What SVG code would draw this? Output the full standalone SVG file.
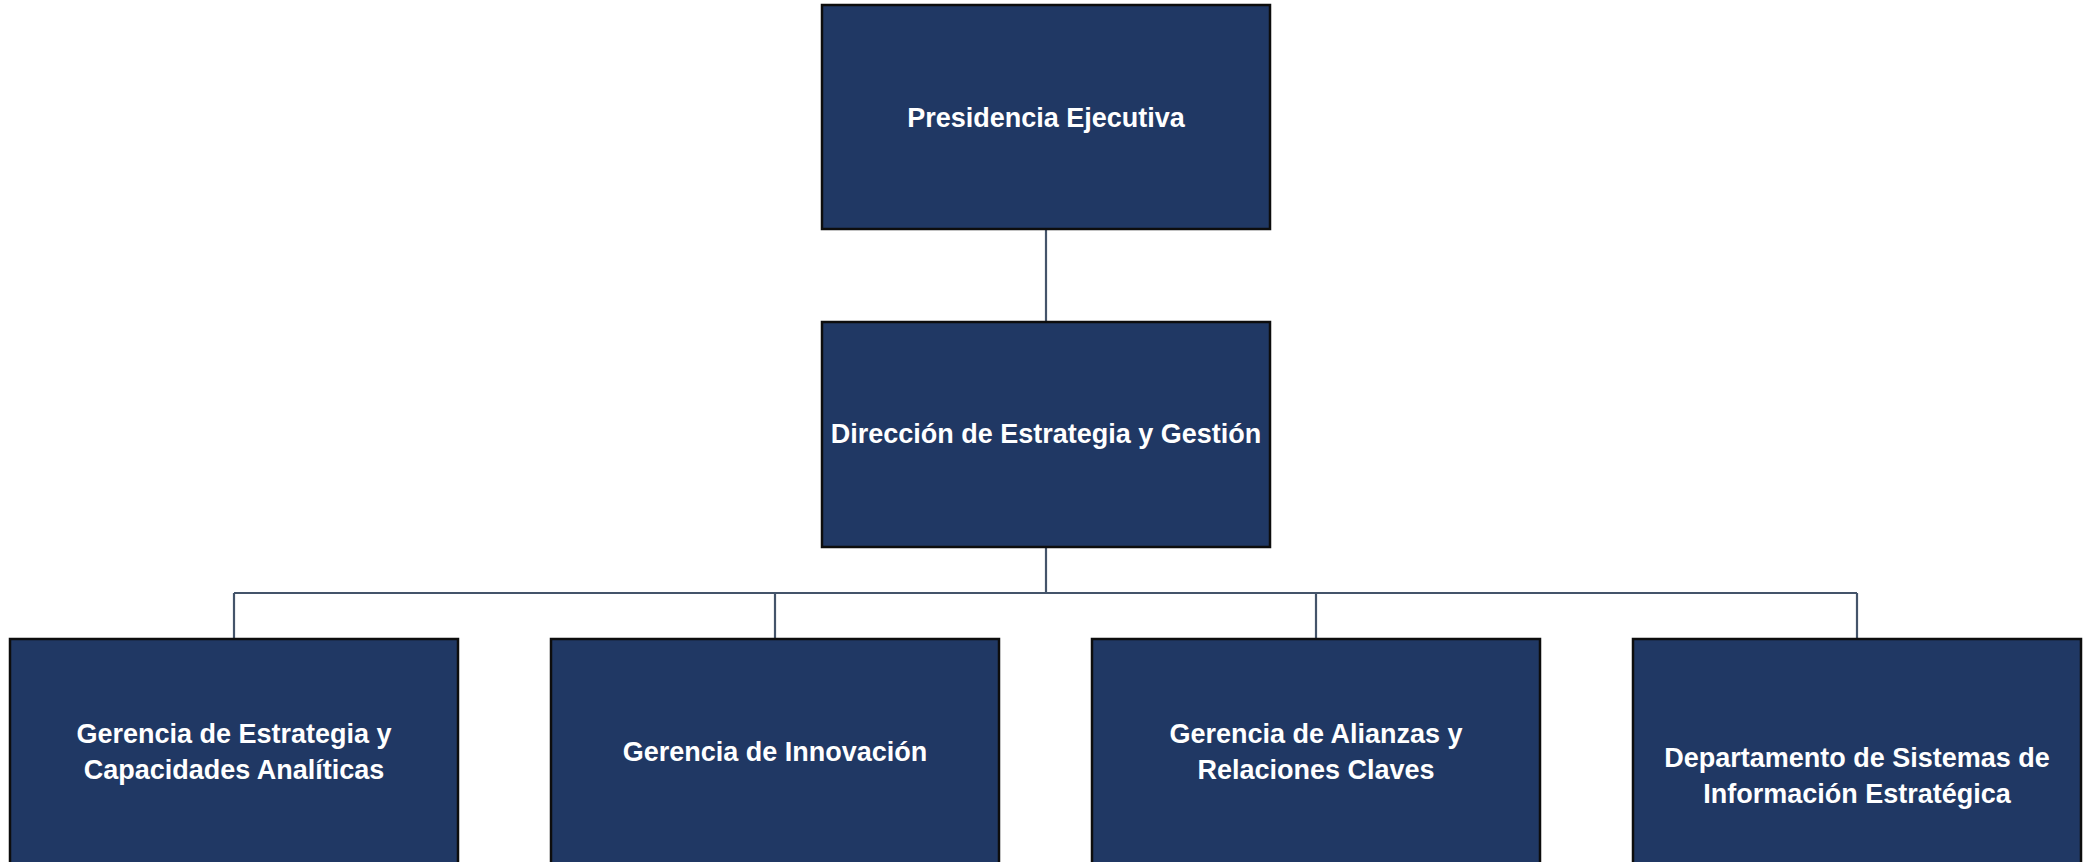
<svg xmlns="http://www.w3.org/2000/svg" width="2084" height="862" viewBox="0 0 2084 862">
<style>
.box{fill:#203864;stroke:#0d0d0d;stroke-width:2.5}
.lbl{fill:#ffffff;font-family:"Liberation Sans",Arial,sans-serif;font-weight:bold;font-size:27px;text-anchor:middle}
.conn{stroke:#44546a;stroke-width:2.2;fill:none}
</style>
<rect width="2084" height="862" fill="#ffffff"/>
<g id="connectors">
<path class="conn" d="M1046 229 V322"/>
<path class="conn" d="M1046 547 V593"/>
<path class="conn" d="M234 593 H1857"/>
<path class="conn" d="M234 593 V639"/>
<path class="conn" d="M775 593 V639"/>
<path class="conn" d="M1316 593 V639"/>
<path class="conn" d="M1857 593 V639"/>
</g>
<g id="presidencia">
<rect class="box" x="822" y="5" width="448" height="224"/>
<text class="lbl" x="1046" y="127">Presidencia Ejecutiva</text>
</g>
<g id="direccion">
<rect class="box" x="822" y="322" width="448" height="225"/>
<text class="lbl" x="1046" y="443">Dirección de Estrategia y Gestión</text>
</g>
<g id="gerencia-estrategia">
<rect class="box" x="10" y="639" width="448" height="225"/>
<text class="lbl" x="234" y="743">Gerencia de Estrategia y</text>
<text class="lbl" x="234" y="779">Capacidades Analíticas</text>
</g>
<g id="gerencia-innovacion">
<rect class="box" x="551" y="639" width="448" height="225"/>
<text class="lbl" x="775" y="761">Gerencia de Innovación</text>
</g>
<g id="gerencia-alianzas">
<rect class="box" x="1092" y="639" width="448" height="225"/>
<text class="lbl" x="1316" y="743">Gerencia de Alianzas y</text>
<text class="lbl" x="1316" y="779">Relaciones Claves</text>
</g>
<g id="departamento-sistemas">
<rect class="box" x="1633" y="639" width="448" height="225"/>
<text class="lbl" x="1857" y="767">Departamento de Sistemas de</text>
<text class="lbl" x="1857" y="803">Información Estratégica</text>
</g>
</svg>
